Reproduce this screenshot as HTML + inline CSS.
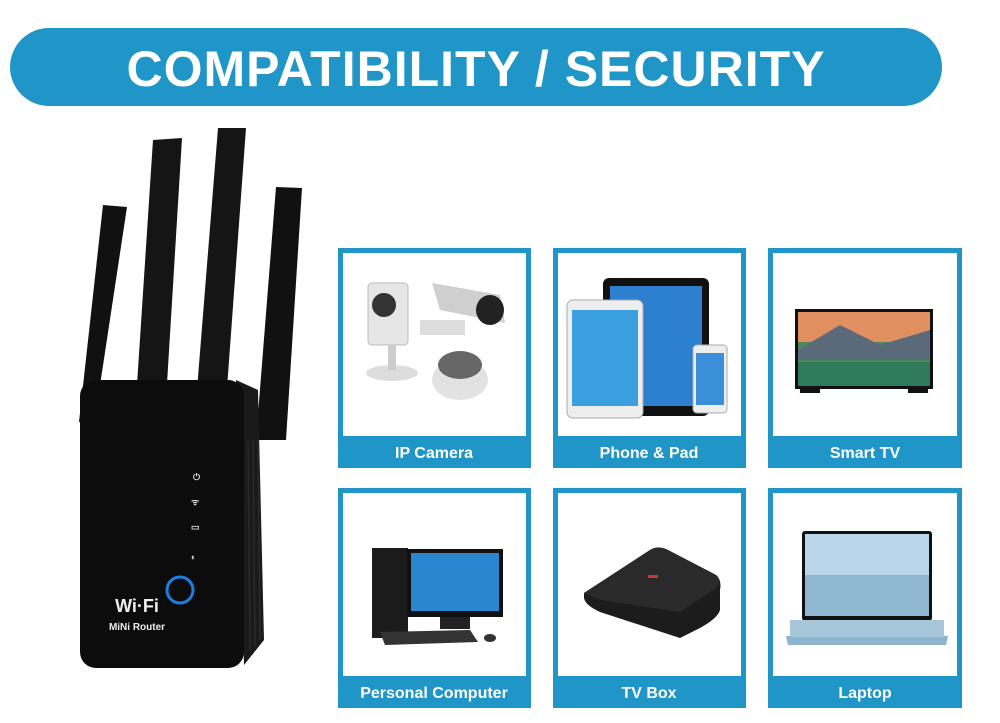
<!DOCTYPE html>
<html><head><meta charset="utf-8"><style>
html,body{margin:0;padding:0;background:#fff;width:1000px;height:723px;overflow:hidden}
text{font-family:"Liberation Sans",sans-serif;font-weight:bold}
</style></head><body>
<svg width="1000" height="723" viewBox="0 0 1000 723" xmlns="http://www.w3.org/2000/svg">
<rect x="10" y="28" width="932" height="78" rx="39" fill="#1f95c8"/>
<text x="476" y="86" font-size="50" fill="#fff" text-anchor="middle" letter-spacing="1">COMPATIBILITY / SECURITY</text>

<!-- router antennas -->
<polygon points="103,205 127,207 94,425 79,422" fill="#111"/>
<polygon points="153,140 182,138 166,400 136,400" fill="#151515"/>
<polygon points="218,128 246,128 226,402 196,402" fill="#151515"/>
<polygon points="276,187 302,188 286,440 256,440" fill="#111"/>
<!-- body -->
<path d="M236,380 L258,390 L264,640 L244,665 Z" fill="#1a1a1a"/>
<rect x="80" y="380" width="164" height="288" rx="16" fill="#0c0c0c"/>
<g stroke="#2a2a2a" stroke-width="1.5"><line x1="248" y1="440" x2="250" y2="650"/><line x1="253" y1="440" x2="255" y2="645"/><line x1="258" y1="440" x2="260" y2="640"/></g>
<circle cx="180" cy="590" r="13" fill="none" stroke="#1f7fe0" stroke-width="3"/>
<g fill="#ddd" font-size="9"><text x="193" y="480">⏻</text><text x="191" y="505">ᯤ</text><text x="191" y="530">▭</text><text x="191" y="560">◐</text></g>
<text x="137" y="612" font-size="18" fill="#eee" font-weight="normal" text-anchor="middle">Wi·Fi</text>
<text x="137" y="630" font-size="10" fill="#eee" text-anchor="middle">MiNi Router</text>

<!-- cards -->
<g fill="none" stroke="#1f95c8" stroke-width="5">
<rect x="340.5" y="250.5" width="188" height="215"/>
<rect x="555.5" y="250.5" width="188" height="215"/>
<rect x="770.5" y="250.5" width="189" height="215"/>
<rect x="340.5" y="490.5" width="188" height="215"/>
<rect x="555.5" y="490.5" width="188" height="215"/>
<rect x="770.5" y="490.5" width="189" height="215"/>
</g>
<g fill="#1f95c8">
<rect x="338" y="436" width="193" height="32"/><rect x="553" y="436" width="193" height="32"/><rect x="768" y="436" width="194" height="32"/>
<rect x="338" y="676" width="193" height="32"/><rect x="553" y="676" width="193" height="32"/><rect x="768" y="676" width="194" height="32"/>
</g>
<g fill="#fff" font-size="16" text-anchor="middle">
<text x="434" y="458">IP Camera</text><text x="649" y="458">Phone &amp; Pad</text><text x="865" y="458">Smart TV</text>
<text x="434" y="698">Personal Computer</text><text x="649" y="698">TV Box</text><text x="865" y="698">Laptop</text>
</g>

<!-- IP camera -->
<rect x="368" y="283" width="40" height="62" rx="4" fill="#e6e6e6" stroke="#bbb"/>
<circle cx="384" cy="305" r="12" fill="#333"/>
<ellipse cx="392" cy="373" rx="26" ry="8" fill="#ddd"/>
<rect x="388" y="345" width="8" height="25" fill="#ccc"/>
<path d="M432,283 L500,295 L505,323 L440,310 Z" fill="#cfcfcf"/>
<ellipse cx="490" cy="310" rx="14" ry="15" fill="#222"/>
<rect x="420" y="320" width="45" height="15" fill="#ddd"/>
<ellipse cx="460" cy="380" rx="28" ry="20" fill="#e2e2e2"/>
<ellipse cx="460" cy="365" rx="22" ry="14" fill="#666"/>

<!-- phone & pad -->
<rect x="603" y="278" width="106" height="138" rx="6" fill="#111"/>
<rect x="610" y="286" width="92" height="120" fill="#2d7fcf"/>
<rect x="567" y="300" width="76" height="118" rx="6" fill="#eee" stroke="#aaa"/>
<rect x="572" y="310" width="66" height="96" fill="#3aa0e0"/>
<rect x="693" y="345" width="34" height="68" rx="4" fill="#eee" stroke="#aaa"/>
<rect x="696" y="353" width="28" height="52" fill="#3b8fd8"/>

<!-- TV -->
<rect x="795" y="309" width="138" height="80" fill="#111"/>
<rect x="798" y="312" width="132" height="74" fill="#4a8a5a"/>
<rect x="798" y="312" width="132" height="30" fill="#e09060"/>
<polygon points="798,350 840,325 880,345 930,330 930,360 798,360" fill="#5a6a7a"/>
<rect x="798" y="362" width="132" height="24" fill="#2f7a5a"/>
<rect x="800" y="389" width="20" height="4" fill="#111"/><rect x="908" y="389" width="20" height="4" fill="#111"/>

<!-- PC -->
<rect x="372" y="548" width="36" height="90" fill="#1b1b1b"/>
<rect x="407" y="549" width="96" height="68" fill="#111"/>
<rect x="411" y="553" width="88" height="58" fill="#2a86cf"/>
<rect x="440" y="617" width="30" height="12" fill="#222"/>
<polygon points="380,632 470,630 478,642 385,645" fill="#333"/>
<ellipse cx="490" cy="638" rx="6" ry="4" fill="#333"/>

<!-- TV box -->
<path d="M584,593 L650,550 Q658,545 668,550 L716,575 Q722,580 720,590 L720,610 Q718,618 700,628 L680,638 L600,612 Q585,605 584,598 Z" fill="#1c1c1c"/>
<path d="M584,593 L650,550 Q658,545 668,550 L716,575 Q722,580 716,588 L680,612 L600,600 Z" fill="#2a2a2a"/>
<rect x="648" y="575" width="10" height="3" fill="#c33"/>

<!-- laptop -->
<rect x="802" y="531" width="130" height="90" rx="3" fill="#111"/>
<rect x="805" y="534" width="124" height="82" fill="#b9d7ea"/>
<rect x="805" y="575" width="124" height="41" fill="#8fb8d0"/>
<polygon points="786,636 948,636 946,645 788,645" fill="#8eb3cc"/>
<rect x="790" y="620" width="154" height="17" fill="#a7c6da"/>
</svg>
</body></html>
